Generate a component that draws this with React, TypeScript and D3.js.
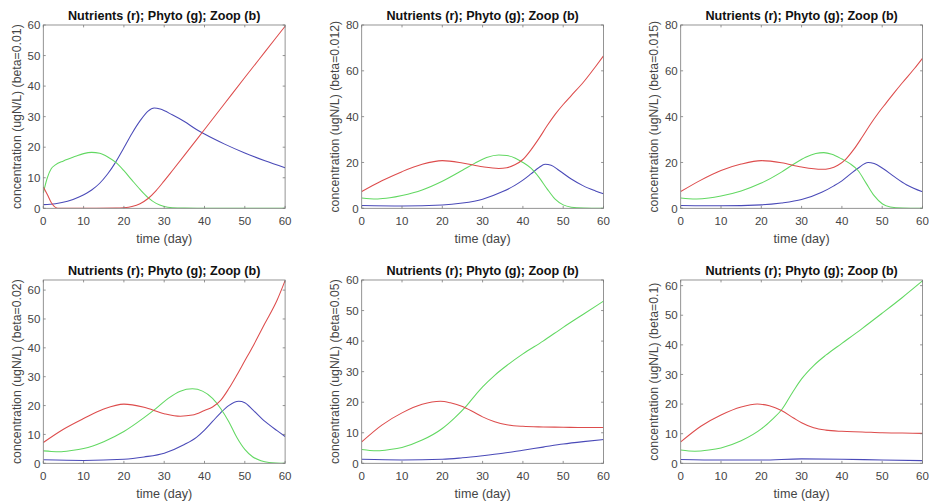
import React from "react";
import * as d3 from "d3";

type Pt = [number, number];

const TITLE = "Nutrients (r); Phyto (g); Zoop (b)";
const X_LABEL = "time (day)";
const betas = ["0.01", "0.012", "0.015", "0.02", "0.05", "0.1"];
const yMaxes = [60, 80, 80, 63.5, 60, 61.9];
const yTickSteps = [10, 20, 20, 10, 10, 10];
const xTicks = [0, 10, 20, 30, 40, 50, 60];

// beta = 0.01
const nut1: Pt[] = [[0,7],[1,4.5],[2,1.8],[3,0.3],[4,0],[10,0],[18,0.05],[20,0.2],[22,0.6],[24,1.5],[26,3.2],[28,5.8],[30,9],[32,12.3],[35,17.3],[40,25.8],[45,34.3],[50,42.8],[55,51.2],[60,59.6]];
const phy1: Pt[] = [[0,5],[1,10],[2,13],[3,14.2],[5,15.5],[8,17],[10,17.9],[12,18.3],[14,18],[16,16.8],[18,15],[20,12.3],[22,9.2],[24,6.2],[26,3.5],[28,1.6],[30,0.6],[32,0.2],[35,0.05],[40,0],[60,0]];
const zoo1: Pt[] = [[0,1.2],[3,1.5],[6,2.3],[9,3.8],[12,6],[14,8.2],[16,11.3],[18,15.2],[20,19.8],[22,24.5],[24,28.6],[26,31.8],[27.5,32.8],[29,32.5],[32,30.6],[35,28.4],[38,25.8],[40,24.3],[45,21],[50,18.1],[55,15.6],[60,13.3]];

// beta = 0.012
const nut2: Pt[] = [[0,7.3],[5,12],[10,16],[15,19.2],[20,20.8],[25,19.8],[30,18.1],[34,17.4],[36,17.7],[38,19],[40,21.3],[42,25.5],[44,30.5],[46,36],[48,41],[50,45.3],[52,49.2],[55,55],[58,61.8],[60,66.5]];
const phy2: Pt[] = [[0,4.5],[2,4.2],[4,4.1],[7,4.6],[10,5.6],[15,8],[20,11.8],[25,16.6],[28,19.6],[31,22.2],[34,23.3],[36,23],[38,22],[40,20],[42,17.5],[44,13.5],[46,8.5],[48,4],[50,1.5],[52,0.5],[55,0.1],[60,0]];
const zoo2: Pt[] = [[0,1.2],[10,1],[20,1.4],[25,2.3],[30,4],[35,7.3],[38,10],[40,12.3],[42,15],[44,17.8],[45.5,19.2],[47,18.8],[49,16.5],[52,12.8],[55,9.8],[58,7.6],[60,6.3]];

// beta = 0.015
const nut3: Pt[] = [[0,7.3],[5,12.3],[10,16.5],[15,19.3],[20,20.8],[25,19.9],[30,18],[35,17],[37,17.4],[39,18.8],[41,21.5],[43,25.8],[45,31],[47,36.5],[49,41.5],[51,46],[53,50.5],[55,54.8],[58,61],[60,65.5]];
const phy3: Pt[] = [[0,4.5],[2,4.2],[4,4.1],[7,4.5],[10,5.4],[15,7.6],[20,11],[25,15.8],[28,19.2],[31,22.3],[33.5,23.9],[35.5,24.3],[37.5,23.6],[40,21.5],[42,19.5],[44,16.5],[46,11],[48,5.5],[50,2],[52,0.6],[55,0.1],[60,0]];
const zoo3: Pt[] = [[0,1.2],[10,1.1],[20,1.5],[25,2.3],[30,3.8],[35,7],[38,9.8],[40,12],[42,14.8],[44,17.5],[46.5,20],[48,19.5],[50,17.6],[53,13.8],[56,10.3],[60,7.2]];

// beta = 0.02
const nut4: Pt[] = [[0,7.2],[5,11.8],[10,15.5],[15,18.8],[20,20.5],[25,19.4],[30,17.2],[34,16.3],[37,16.7],[40,18.3],[42,19.5],[44,21.8],[46,25.8],[48,30.5],[50,35.5],[52,40.5],[55,48.5],[58,56.5],[60,63.3]];
const phy4: Pt[] = [[0,4.3],[2,4.1],[4,4],[7,4.4],[10,5.1],[15,7.5],[20,11],[25,15.8],[28,19],[31,22.5],[34,25],[37,25.8],[39.5,25],[42,22.5],[44,19],[46,14.5],[48,9],[50,4.8],[52,2.2],[54,0.9],[56,0.3],[60,0]];
const zoo4: Pt[] = [[0,1.2],[10,1],[20,1.4],[25,2.2],[30,3.5],[35,6.5],[38,9],[40,11.5],[42,14.5],[44,17.5],[46,20],[48.5,21.5],[50,21],[52,18.5],[55,14.5],[58,11.3],[60,9.3]];

// beta = 0.05
const nut5: Pt[] = [[0,7],[5,12.5],[10,16.5],[15,19.3],[19.5,20.3],[22,19.8],[25,18.6],[28,16.6],[30,15.2],[33,13.6],[36,12.6],[40,12.1],[45,11.9],[50,11.8],[55,11.7],[60,11.7]];
const phy5: Pt[] = [[0,4.5],[2,4.2],[4,4.1],[7,4.5],[10,5.2],[15,7.6],[20,11.4],[23,14.8],[26,18.8],[28,22],[30,25],[33,28.8],[36,32],[40,35.8],[45,40],[50,44.5],[55,48.8],[60,53.1]];
const zoo5: Pt[] = [[0,1.3],[10,1.1],[20,1.3],[25,1.8],[30,2.5],[35,3.3],[40,4.3],[45,5.3],[50,6.3],[55,7.1],[60,7.8]];

// beta = 0.1
const nut6: Pt[] = [[0,7.2],[5,12.5],[10,16.3],[15,19],[19,20],[22,19.4],[25,17.8],[28,15.3],[30,13.7],[33,12],[36,11.2],[40,10.8],[45,10.6],[50,10.3],[55,10.2],[60,10.1]];
const phy6: Pt[] = [[0,4.5],[3.5,4.1],[7,4.5],[10,5.2],[15,7.6],[20,11.6],[23,15.2],[25,18],[28,24.5],[30,28.5],[33,33],[36,36.5],[40,40.5],[45,45.5],[50,50.7],[55,56],[60,61.6]];
const zoo6: Pt[] = [[0,1.3],[10,1.1],[20,1.1],[30,1.5],[40,1.4],[50,1.1],[60,0.9]];

const nutrients = [nut1, nut2, nut3, nut4, nut5, nut6];
const phyto = [phy1, phy2, phy3, phy4, phy5, phy6];
const zoop = [zoo1, zoo2, zoo3, zoo4, zoo5, zoo6];

const W = 929;
const H = 504;
const colLefts = [43.3, 361.7, 680.7];
const plotW = 241.8;
const rowTops = [25, 280];
const rowBottoms = [208.3, 463.3];
const FONT = "'Liberation Sans', Arial, Helvetica, sans-serif";
const AXIS = "#7a7a7a";
const TEXT = "#454545";
const RED = "#dd4c4c";
const GREEN = "#62d862";
const BLUE = "#4a4ab8";

function Panel({ i }: { i: number }) {
  const col = i % 3;
  const row = Math.floor(i / 3);
  const left = colLefts[col];
  const right = left + plotW;
  const top = rowTops[row];
  const bottom = rowBottoms[row];
  const x = d3.scaleLinear().domain([0, 60]).range([left, right]);
  const y = d3.scaleLinear().domain([0, yMaxes[i]]).range([bottom, top]);
  const yTicks = d3.range(0, yMaxes[i] + 0.001, yTickSteps[i]);
  const line = d3
    .line<Pt>()
    .x((d) => x(d[0]))
    .y((d) => y(d[1]))
    .curve(d3.curveMonotoneX);
  const tl = 2.4;
  const series: [Pt[], string][] = [
    [zoop[i], BLUE],
    [phyto[i], GREEN],
    [nutrients[i], RED],
  ];
  return (
    <g>
      <rect x={left} y={top} width={plotW} height={bottom - top} fill="#fff" />
      <defs>
        <clipPath id={`clip${i}`}>
          <rect x={left} y={top - 1} width={plotW} height={bottom - top + 1} />
        </clipPath>
      </defs>
      <g clipPath={`url(#clip${i})`}>
        {series.map(([d, c], k) => (
          <path key={k} d={line(d) || ""} fill="none" stroke={c} strokeWidth={1.05} />
        ))}
      </g>
      <rect x={left} y={top} width={plotW} height={bottom - top} fill="none" stroke={AXIS} strokeWidth={0.8} />
      {xTicks.map((t) => (
        <g key={"x" + t}>
          <line x1={x(t)} x2={x(t)} y1={bottom} y2={bottom - tl} stroke={AXIS} strokeWidth={0.8} />
          <line x1={x(t)} x2={x(t)} y1={top} y2={top + tl} stroke={AXIS} strokeWidth={0.8} />
          <text x={x(t)} y={bottom + 16.6} textAnchor="middle" fontSize={11.5} fill={TEXT} fontFamily={FONT}>
            {t}
          </text>
        </g>
      ))}
      {yTicks.map((t) => (
        <g key={"y" + t}>
          <line x1={left} x2={left + tl} y1={y(t)} y2={y(t)} stroke={AXIS} strokeWidth={0.8} />
          <line x1={right} x2={right - tl} y1={y(t)} y2={y(t)} stroke={AXIS} strokeWidth={0.8} />
          <text x={left - 3} y={y(t) + 4.2} textAnchor="end" fontSize={11.5} fill={TEXT} fontFamily={FONT}>
            {t}
          </text>
        </g>
      ))}
      <text x={(left + right) / 2} y={top - 5.5} textAnchor="middle" fontSize={12.6} fontWeight="bold" fill="#111" fontFamily={FONT}>
        {TITLE}
      </text>
      <text x={(left + right) / 2} y={bottom + 35} textAnchor="middle" fontSize={12.6} fill={TEXT} fontFamily={FONT}>
        {X_LABEL}
      </text>
      <text
        transform={`translate(${left - 26.5},${(top + bottom) / 2}) rotate(-90)`}
        textAnchor="middle"
        dominantBaseline="central"
        fontSize={12.3}
        fill={TEXT}
        fontFamily={FONT}
      >
        {`concentration (ugN/L) (beta=${betas[i]})`}
      </text>
    </g>
  );
}

export default function App() {
  return (
    <svg
      width={W}
      height={H}
      viewBox={`0 0 ${W} ${H}`}
      style={{ position: "absolute", left: 0, top: 0, background: "#fff" }}
    >
      <rect width={W} height={H} fill="#fff" />
      {[0, 1, 2, 3, 4, 5].map((i) => (
        <Panel key={i} i={i} />
      ))}
    </svg>
  );
}
